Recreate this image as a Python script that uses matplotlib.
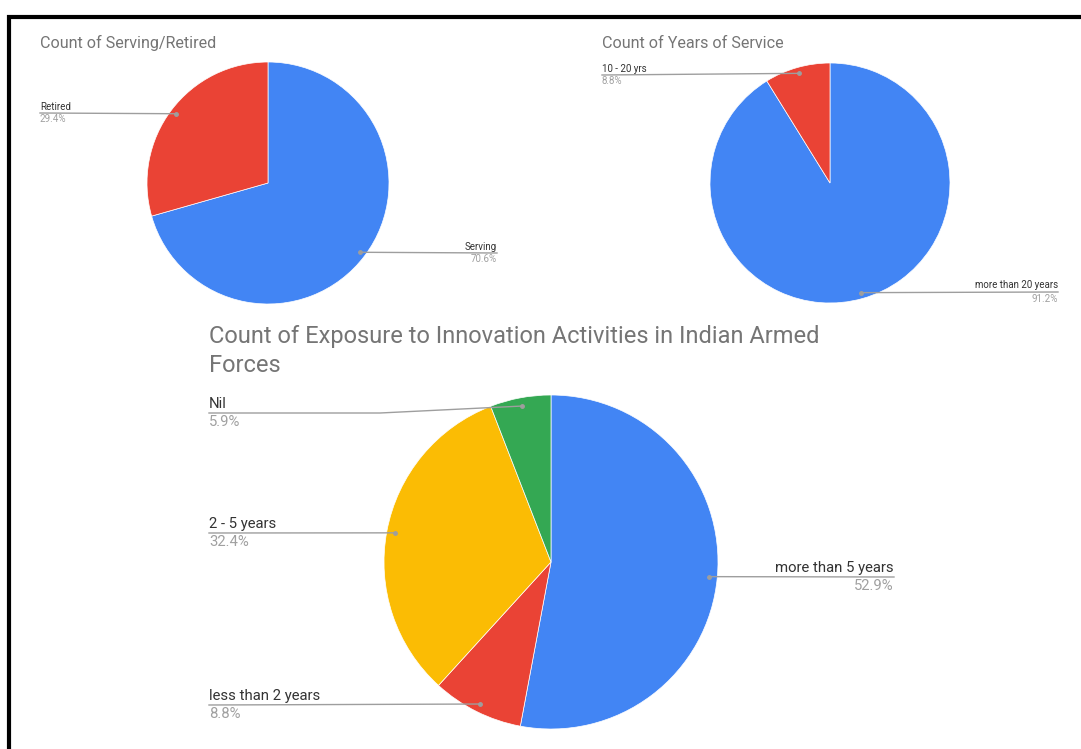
import numpy as np
import matplotlib
matplotlib.use('Agg')
import matplotlib.pyplot as plt

plt.rcParams['font.family'] = ['Roboto', 'DejaVu Sans']

# data (34 responses)
serving_labels = ['Serving', 'Retired']
serving_counts = [24, 10]

service_labels = ['more than 20 years', '10 - 20 yrs']
service_counts = [31, 3]

exposure_labels = ['more than 5 years', 'less than 2 years', '2 - 5 years', 'Nil']
exposure_counts = [18, 3, 11, 2]

BLUE, RED, YELLOW, GREEN = '#4285F4', '#EA4335', '#FBBC04', '#34A853'
LINE = '#9e9e9e'
W, H = 1081, 749

fig = plt.figure(figsize=(W / 100, H / 100), dpi=100)
fig.patch.set_facecolor('white')

# overlay in pixel units for titles, leader lines and the frame
over = fig.add_axes([0, 0, 1, 1], zorder=5)
over.set_xlim(0, W)
over.set_ylim(H, 0)
over.axis('off')
over.patch.set_alpha(0)


def add_pie(cx, cy, r, values, colors):
    ax = fig.add_axes([(cx - r) / W, 1 - (cy + r) / H, 2 * r / W, 2 * r / H])
    wedges, _ = ax.pie(values, colors=colors, startangle=90, counterclock=False,
                       radius=1, wedgeprops=dict(linewidth=0.5, edgecolor='white'))
    ax.set_xlim(-1, 1)
    ax.set_ylim(-1, 1)
    ax.axis('off')
    dots = []
    for w in wedges:
        mid = np.deg2rad((w.theta1 + w.theta2) / 2)
        dots.append((cx + 0.95 * r * np.cos(mid), cy - 0.95 * r * np.sin(mid)))
    return dots


def add_label(dot, x_end, y_line, name, pct, side, size, gap, kink=None):
    xs = [dot[0]]
    ys = [dot[1]]
    if kink is not None:
        xs.append(kink)
        ys.append(y_line)
    xs.append(x_end)
    ys.append(y_line)
    over.plot(xs, ys, color=LINE, lw=1)
    over.plot(dot[0], dot[1], 'o', ms=2.5, color=LINE)
    ha = 'left' if side == 'left' else 'right'
    over.text(x_end, y_line - gap, name, ha=ha, va='bottom', fontsize=size, color='#333333')
    over.text(x_end, y_line + gap, pct, ha=ha, va='top', fontsize=size, color='#a0a0a0')


def pct_text(values):
    total = sum(values)
    return [f'{v / total * 100:.1f}%' for v in values]


# chart 1
over.text(40, 43, 'Count of Serving/Retired', fontsize=11.6, color='#757575', va='center')
d1 = add_pie(268, 183, 121, serving_counts, [BLUE, RED])
p1 = pct_text(serving_counts)
add_label(d1[0], 497, 253, serving_labels[0], p1[0], 'right', 7, 1.5)
add_label(d1[1], 40, 113, serving_labels[1], p1[1], 'left', 7, 1.5)

# chart 2
over.text(602, 43, 'Count of Years of Service', fontsize=11.6, color='#757575', va='center')
d2 = add_pie(830, 183, 120, service_counts, [BLUE, RED])
p2 = pct_text(service_counts)
add_label(d2[0], 1058, 292, service_labels[0], p2[0], 'right', 7, 1.5)
add_label(d2[1], 602, 75, service_labels[1], p2[1], 'left', 7, 1.5)

# chart 3
over.text(209, 337, 'Count of Exposure to Innovation Activities in Indian Armed',
          fontsize=17, color='#757575', va='center')
over.text(209, 366, 'Forces', fontsize=17, color='#757575', va='center')
d3 = add_pie(551, 562, 167, exposure_counts, [BLUE, RED, YELLOW, GREEN])
p3 = pct_text(exposure_counts)
add_label(d3[0], 894, 577, exposure_labels[0], p3[0], 'right', 10.7, 2)
add_label(d3[1], 209, 705, exposure_labels[1], p3[1], 'left', 10.7, 2)
add_label(d3[2], 209, 533, exposure_labels[2], p3[2], 'left', 10.7, 2)
add_label(d3[3], 209, 413, exposure_labels[3], p3[3], 'left', 10.7, 2, kink=380)

# frame
over.plot([9, 9, W], [H, 17, 17], color='black', lw=3, solid_joinstyle='miter', clip_on=False)

fig.savefig('out.png', dpi=100)
